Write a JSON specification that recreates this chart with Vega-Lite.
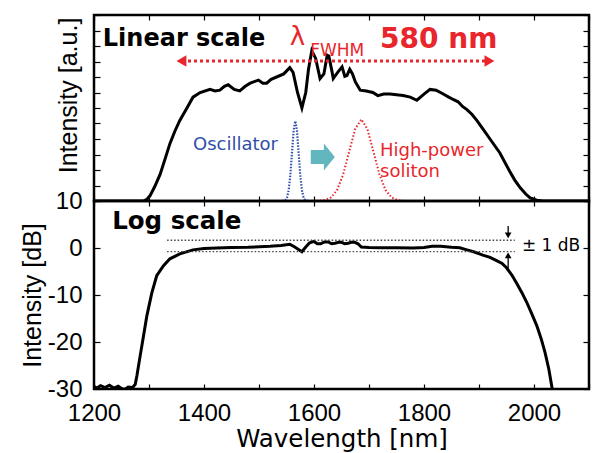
{
  "$schema": "https://vega.github.io/schema/vega-lite/v6.json",
  "padding": {"left": 19, "top": 13, "right": 0, "bottom": 0},
  "background": "white",
  "spacing": 0,
  "bounds": "flush",
  "config": {
    "view": {"stroke": "black", "strokeWidth": 2.5},
    "axis": {"grid": false, "domain": false, "tickColor": "black", "tickWidth": 1.2, "labelColor": "black", "labelFont": "Liberation Sans", "labelFontSize": 24, "titleColor": "black", "titleFontWeight": "normal", "titleFont": "Liberation Sans", "titleFontSize": 25}
  },
  "datasets": {
    "lin": [
      {"wl":1200,"v":0},{"wl":1290,"v":0},{"wl":1296,"v":0.1},{"wl":1302,"v":0.35},{"wl":1310,"v":0.9},{"wl":1320,"v":1.7},{"wl":1330,"v":2.8},{"wl":1338,"v":3.7},{"wl":1347,"v":4.5},{"wl":1356,"v":5.2},{"wl":1369,"v":6.0},{"wl":1380,"v":6.7},{"wl":1393,"v":7.0},{"wl":1411,"v":7.2},{"wl":1420,"v":7.1},{"wl":1429,"v":7.15},{"wl":1437,"v":7.4},{"wl":1444,"v":7.5},{"wl":1455,"v":7.2},{"wl":1465,"v":7.1},{"wl":1475,"v":7.4},{"wl":1484,"v":7.6},{"wl":1499,"v":7.8},{"wl":1507,"v":7.6},{"wl":1514,"v":7.6},{"wl":1522,"v":7.85},{"wl":1532,"v":8.0},{"wl":1545,"v":8.2},{"wl":1556,"v":8.6},{"wl":1562,"v":8.3},{"wl":1570,"v":7.0},{"wl":1578,"v":6.0},{"wl":1585,"v":7.0},{"wl":1590,"v":8.5},{"wl":1596,"v":9.7},{"wl":1603,"v":9.2},{"wl":1611,"v":7.9},{"wl":1618,"v":8.2},{"wl":1624,"v":9.4},{"wl":1627,"v":9.35},{"wl":1633,"v":8.3},{"wl":1635,"v":7.9},{"wl":1643,"v":8.3},{"wl":1651,"v":8.65},{"wl":1656,"v":8.05},{"wl":1660,"v":8.1},{"wl":1665,"v":8.5},{"wl":1670,"v":8.2},{"wl":1675,"v":7.7},{"wl":1684,"v":7.15},{"wl":1695,"v":7.1},{"wl":1707,"v":7.0},{"wl":1716,"v":6.8},{"wl":1727,"v":6.9},{"wl":1738,"v":6.9},{"wl":1750,"v":6.85},{"wl":1762,"v":6.8},{"wl":1775,"v":6.7},{"wl":1787,"v":6.5},{"wl":1800,"v":6.9},{"wl":1811,"v":7.2},{"wl":1822,"v":7.15},{"wl":1835,"v":6.9},{"wl":1845,"v":6.7},{"wl":1853,"v":6.55},{"wl":1862,"v":6.4},{"wl":1870,"v":6.1},{"wl":1878,"v":5.9},{"wl":1887,"v":5.6},{"wl":1896,"v":5.2},{"wl":1908,"v":4.6},{"wl":1920,"v":4.0},{"wl":1938,"v":3.1},{"wl":1956,"v":1.9},{"wl":1965,"v":1.35},{"wl":1975,"v":0.85},{"wl":1985,"v":0.45},{"wl":1993,"v":0.2},{"wl":2005,"v":0.05},{"wl":2016,"v":0},{"wl":2100,"v":0}
    ],
    "osc": [
      {"wl":1542,"v":0},{"wl":1548,"v":0.06},{"wl":1551,"v":0.23},{"wl":1554,"v":0.7},{"wl":1557,"v":1.68},{"wl":1560,"v":3.13},{"wl":1563,"v":4.55},{"wl":1566,"v":5.16},{"wl":1569,"v":4.55},{"wl":1572,"v":3.13},{"wl":1575,"v":1.68},{"wl":1578,"v":0.7},{"wl":1581,"v":0.23},{"wl":1584,"v":0.06},{"wl":1590,"v":0}
    ],
    "sol": [
      {"wl":1598,"v":0},{"wl":1609,"v":0.01},{"wl":1620,"v":0.06},{"wl":1631,"v":0.23},{"wl":1642,"v":0.71},{"wl":1653,"v":1.71},{"wl":1664,"v":3.2},{"wl":1675,"v":4.65},{"wl":1686,"v":5.27},{"wl":1697,"v":4.65},{"wl":1708,"v":3.2},{"wl":1719,"v":1.71},{"wl":1730,"v":0.71},{"wl":1741,"v":0.23},{"wl":1752,"v":0.06},{"wl":1763,"v":0.01},{"wl":1774,"v":0}
    ],
    "db": [
      {"wl":1200,"v":-29.5},{"wl":1205,"v":-29.8},{"wl":1212,"v":-29.3},{"wl":1220,"v":-29.7},{"wl":1228,"v":-29.2},{"wl":1236,"v":-29.8},{"wl":1244,"v":-29.4},{"wl":1250,"v":-29.9},{"wl":1256,"v":-30.1},{"wl":1262,"v":-29.6},{"wl":1270,"v":-29.7},{"wl":1275,"v":-29.0},{"wl":1278,"v":-27.2},{"wl":1284,"v":-22.9},{"wl":1290,"v":-18.7},{"wl":1296,"v":-14.5},{"wl":1305,"v":-9.6},{"wl":1314,"v":-5.9},{"wl":1326,"v":-3.8},{"wl":1338,"v":-2.3},{"wl":1356,"v":-1.25},{"wl":1380,"v":-0.4},{"wl":1400,"v":-0.1},{"wl":1423,"v":0},{"wl":1450,"v":0.1},{"wl":1480,"v":0.15},{"wl":1520,"v":0.35},{"wl":1540,"v":0.55},{"wl":1556,"v":0.8},{"wl":1565,"v":0.2},{"wl":1578,"v":-0.8},{"wl":1585,"v":0.2},{"wl":1592,"v":1.1},{"wl":1600,"v":1.4},{"wl":1606,"v":0.9},{"wl":1612,"v":0.9},{"wl":1619,"v":1.3},{"wl":1626,"v":1.3},{"wl":1632,"v":0.9},{"wl":1638,"v":1.0},{"wl":1645,"v":1.2},{"wl":1650,"v":1.2},{"wl":1656,"v":0.9},{"wl":1662,"v":1.0},{"wl":1668,"v":1.2},{"wl":1674,"v":1.2},{"wl":1680,"v":0.9},{"wl":1686,"v":0.2},{"wl":1700,"v":0.1},{"wl":1720,"v":0.05},{"wl":1750,"v":0.05},{"wl":1780,"v":0},{"wl":1800,"v":0.1},{"wl":1815,"v":0.35},{"wl":1830,"v":0.35},{"wl":1850,"v":0.15},{"wl":1865,"v":0.05},{"wl":1878,"v":-0.4},{"wl":1893,"v":-0.9},{"wl":1907,"v":-1.5},{"wl":1920,"v":-2.0},{"wl":1932,"v":-2.7},{"wl":1942,"v":-3.3},{"wl":1950,"v":-4.2},{"wl":1960,"v":-5.8},{"wl":1969,"v":-7.6},{"wl":1978,"v":-9.5},{"wl":1987,"v":-11.6},{"wl":1996,"v":-14.0},{"wl":2005,"v":-16.5},{"wl":2013,"v":-19.3},{"wl":2020,"v":-22.2},{"wl":2027,"v":-25.8},{"wl":2033,"v":-29.9},{"wl":2035,"v":-30.5}
    ]
  },
  "vconcat": [
    {
      "width": 495,
      "height": 186,
      "resolve": {"axis": {"x": "independent", "y": "independent"}},
      "layer": [
        {
          "data": {"name": "lin"},
          "mark": {"type": "line", "color": "black", "strokeWidth": 3, "clip": true},
          "encoding": {
            "x": {"field": "wl", "type": "quantitative", "scale": {"domain": [1200, 2100], "nice": false, "zero": false},
                  "axis": {"orient": "bottom", "labels": false, "title": null, "values": [1200,1300,1400,1500,1600,1700,1800,1900,2000,2100], "tickSize": -5}},
            "y": {"field": "v", "type": "quantitative", "scale": {"domain": [0, 12], "nice": false, "zero": false},
                  "axis": {"orient": "left", "labels": false, "title": "Intensity [a.u.]", "titlePadding": 12, "titleY": 80, "values": [0,1,2,3,4,5,6,7,8,9,10,11,12], "tickSize": -6}}
          }
        },
        {
          "data": {"name": "lin"},
          "mark": {"type": "point", "opacity": 0},
          "encoding": {
            "x": {"field": "wl", "type": "quantitative",
                  "axis": {"orient": "top", "labels": false, "title": null, "values": [1200,1300,1400,1500,1600,1700,1800,1900,2000,2100], "tickSize": -5}},
            "y": {"field": "v", "type": "quantitative",
                  "axis": {"orient": "right", "labels": false, "title": null, "values": [0,1,2,3,4,5,6,7,8,9,10,11,12], "tickSize": -6}}
          }
        },
        {
          "data": {"name": "osc"},
          "mark": {"type": "line", "color": "#2f4fa8", "strokeWidth": 2.2, "strokeDash": [1.5, 1.5]},
          "encoding": {
            "x": {"field": "wl", "type": "quantitative", "axis": null},
            "y": {"field": "v", "type": "quantitative", "axis": null}
          }
        },
        {
          "data": {"name": "sol"},
          "mark": {"type": "line", "color": "#e8262b", "strokeWidth": 2, "strokeDash": [1.5, 2]},
          "encoding": {
            "x": {"field": "wl", "type": "quantitative", "axis": null},
            "y": {"field": "v", "type": "quantitative", "axis": null}
          }
        },
        {
          "data": {"values": [{"from": 1360, "to": 1918, "v": 9.03}]},
          "mark": {"type": "rule", "color": "#e8262b", "strokeWidth": 3, "strokeDash": [3, 3]},
          "encoding": {
            "x": {"field": "from", "type": "quantitative", "axis": null},
            "x2": {"field": "to"},
            "y": {"field": "v", "type": "quantitative", "axis": null}
          }
        },
        {
          "data": {"values": [{"wl": 1359, "v": 9.03, "dir": "triangle-left"}, {"wl": 1919, "v": 9.03, "dir": "triangle-right"}]},
          "mark": {"type": "point", "filled": true, "color": "#e8262b", "opacity": 1, "size": 130},
          "encoding": {
            "x": {"field": "wl", "type": "quantitative", "axis": null},
            "y": {"field": "v", "type": "quantitative", "axis": null},
            "shape": {"field": "dir", "type": "nominal", "scale": null}
          }
        },
        {
          "data": {"values": [{"wl": 1616, "v": 2.84}]},
          "mark": {"type": "point", "filled": true, "color": "#62b6bd", "opacity": 1, "size": 729, "shape": "M -0.89 -0.52 L 0.08 -0.52 L 0.08 -1 L 0.89 0 L 0.08 1 L 0.08 0.52 L -0.89 0.52 Z"},
          "encoding": {
            "x": {"field": "wl", "type": "quantitative", "axis": null},
            "y": {"field": "v", "type": "quantitative", "axis": null}
          }
        },
        {
          "data": {"values": [{"wl": 1216, "v": 10.0, "label": "Linear scale"}]},
          "mark": {"type": "text", "align": "left", "baseline": "alphabetic", "font": "DejaVu Sans", "fontWeight": "bold", "fontSize": 24, "color": "black"},
          "encoding": {
            "x": {"field": "wl", "type": "quantitative", "axis": null},
            "y": {"field": "v", "type": "quantitative", "axis": null},
            "text": {"field": "label"}
          }
        },
        {
          "data": {"values": [{"wl": 1556, "v": 10.06, "label": "λ"}]},
          "mark": {"type": "text", "align": "left", "baseline": "alphabetic", "font": "DejaVu Sans", "fontSize": 26, "color": "#e8262b"},
          "encoding": {
            "x": {"field": "wl", "type": "quantitative", "axis": null},
            "y": {"field": "v", "type": "quantitative", "axis": null},
            "text": {"field": "label"}
          }
        },
        {
          "data": {"values": [{"wl": 1593, "v": 9.35, "label": "FWHM"}]},
          "mark": {"type": "text", "align": "left", "baseline": "alphabetic", "font": "DejaVu Sans", "fontSize": 17, "color": "#e8262b"},
          "encoding": {
            "x": {"field": "wl", "type": "quantitative", "axis": null},
            "y": {"field": "v", "type": "quantitative", "axis": null},
            "text": {"field": "label"}
          }
        },
        {
          "data": {"values": [{"wl": 1720, "v": 9.9, "label": "580 nm"}]},
          "mark": {"type": "text", "align": "left", "baseline": "alphabetic", "font": "DejaVu Sans", "fontWeight": "bold", "fontSize": 28, "color": "#e8262b"},
          "encoding": {
            "x": {"field": "wl", "type": "quantitative", "axis": null},
            "y": {"field": "v", "type": "quantitative", "axis": null},
            "text": {"field": "label"}
          }
        },
        {
          "data": {"values": [{"wl": 1380, "v": 3.29, "label": "Oscillator"}]},
          "mark": {"type": "text", "align": "left", "baseline": "alphabetic", "font": "DejaVu Sans", "fontSize": 18, "color": "#2f4fa8"},
          "encoding": {
            "x": {"field": "wl", "type": "quantitative", "axis": null},
            "y": {"field": "v", "type": "quantitative", "axis": null},
            "text": {"field": "label"}
          }
        },
        {
          "data": {"values": [{"wl": 1720, "v": 2.9, "label": "High-power"}, {"wl": 1720, "v": 1.55, "label": "soliton"}]},
          "mark": {"type": "text", "align": "left", "baseline": "alphabetic", "font": "DejaVu Sans", "fontSize": 18, "color": "#e8262b"},
          "encoding": {
            "x": {"field": "wl", "type": "quantitative", "axis": null},
            "y": {"field": "v", "type": "quantitative", "axis": null},
            "text": {"field": "label"}
          }
        }
      ]
    },
    {
      "width": 495,
      "height": 188,
      "resolve": {"axis": {"x": "independent", "y": "independent"}},
      "layer": [
        {
          "data": {"name": "db"},
          "mark": {"type": "line", "color": "black", "strokeWidth": 3, "clip": true},
          "encoding": {
            "x": {"field": "wl", "type": "quantitative", "scale": {"domain": [1200, 2100], "nice": false, "zero": false},
                  "axis": {"orient": "bottom", "title": "Wavelength [nm]", "titleFont": "DejaVu Sans", "titleFontSize": 24.5, "titlePadding": 2, "values": [1200,1300,1400,1500,1600,1700,1800,1900,2000,2100], "labelExpr": "datum.value % 200 == 0 ? datum.label : ''", "tickSize": -5, "labelPadding": 17, "labelDx": -7, "labelFlush": false, "format": "d"}},
            "y": {"field": "v", "type": "quantitative", "scale": {"domain": [-30, 10], "nice": false, "zero": false},
                  "axis": {"orient": "left", "title": "Intensity [dB]", "titlePadding": 2, "values": [-30,-20,-10,0,10], "labelExpr": "replace(datum.label, '−', '-')", "tickSize": -6, "labelPadding": 18, "labelFlush": false}}
          }
        },
        {
          "data": {"name": "db"},
          "mark": {"type": "point", "opacity": 0},
          "encoding": {
            "x": {"field": "wl", "type": "quantitative",
                  "axis": {"orient": "top", "labels": false, "title": null, "values": [1200,1300,1400,1500,1600,1700,1800,1900,2000,2100], "tickSize": -5}},
            "y": {"field": "v", "type": "quantitative",
                  "axis": {"orient": "right", "labels": false, "title": null, "values": [-30,-20,-10,0,10], "tickSize": -6}}
          }
        },
        {
          "data": {"values": [{"from": 1333, "to": 1965, "v": 1.65}, {"from": 1333, "to": 1965, "v": -0.75}]},
          "mark": {"type": "rule", "color": "#444444", "strokeWidth": 1.3, "strokeDash": [1.5, 2]},
          "encoding": {
            "x": {"field": "from", "type": "quantitative", "axis": null},
            "x2": {"field": "to"},
            "y": {"field": "v", "type": "quantitative", "axis": null}
          }
        },
        {
          "data": {"values": [{"wl": 1953, "a": 4.7, "b": 3.0}, {"wl": 1953, "a": -1.9, "b": -4.4}]},
          "mark": {"type": "rule", "color": "black", "strokeWidth": 1.3},
          "encoding": {
            "x": {"field": "wl", "type": "quantitative", "axis": null},
            "y": {"field": "a", "type": "quantitative", "axis": null},
            "y2": {"field": "b"}
          }
        },
        {
          "data": {"values": [{"wl": 1953, "v": 2.7, "dir": "triangle-down"}, {"wl": 1953, "v": -1.55, "dir": "triangle-up"}]},
          "mark": {"type": "point", "filled": true, "color": "black", "opacity": 1, "size": 45},
          "encoding": {
            "x": {"field": "wl", "type": "quantitative", "axis": null},
            "y": {"field": "v", "type": "quantitative", "axis": null},
            "shape": {"field": "dir", "type": "nominal", "scale": null}
          }
        },
        {
          "data": {"values": [{"wl": 1233, "v": 4.05, "label": "Log scale"}]},
          "mark": {"type": "text", "align": "left", "baseline": "alphabetic", "font": "DejaVu Sans", "fontWeight": "bold", "fontSize": 24.5, "color": "black"},
          "encoding": {
            "x": {"field": "wl", "type": "quantitative", "axis": null},
            "y": {"field": "v", "type": "quantitative", "axis": null},
            "text": {"field": "label"}
          }
        },
        {
          "data": {"values": [{"wl": 1978, "v": -0.6, "label": "± 1 dB"}]},
          "mark": {"type": "text", "align": "left", "baseline": "alphabetic", "font": "DejaVu Sans", "fontSize": 17, "color": "black"},
          "encoding": {
            "x": {"field": "wl", "type": "quantitative", "axis": null},
            "y": {"field": "v", "type": "quantitative", "axis": null},
            "text": {"field": "label"}
          }
        }
      ]
    }
  ]
}
